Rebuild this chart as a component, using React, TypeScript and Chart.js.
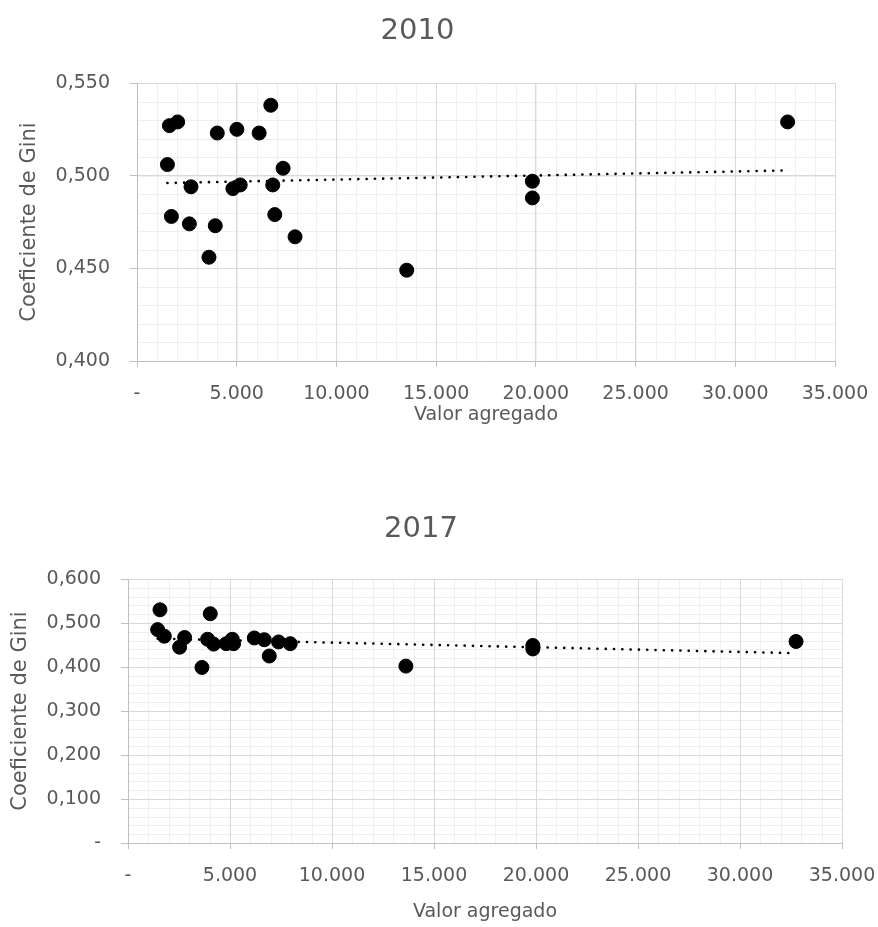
import React, { useEffect, useRef } from 'react';
import { Chart, registerables } from 'chart.js';

Chart.register(...registerables);

const FONT = '"DejaVu Sans", sans-serif';
const TEXT = '#595959';
const GRID = '#d9d9d9';
const AXIS = '#bfbfbf';
const MINOR = '#efefef';

// ---- data ----
const x2010 = [1525, 1625, 1725, 2040, 2625, 2708, 3608, 3925, 4025, 4808, 5008, 5175, 6125, 6710, 6808, 6908, 7325, 7925, 13525, 19825, 19825, 32625];
const y2010 = [0.506, 0.527, 0.478, 0.529, 0.474, 0.494, 0.456, 0.473, 0.523, 0.493, 0.525, 0.495, 0.523, 0.538, 0.495, 0.479, 0.504, 0.467, 0.449, 0.497, 0.488, 0.529];

const x2017 = [1451, 1568, 1779, 2529, 2774, 3626, 3902, 4033, 4196, 4817, 5111, 5175, 6190, 6680, 6924, 7380, 7953, 13622, 19845, 19845, 32747];
const y2017 = [0.485, 0.530, 0.470, 0.445, 0.467, 0.399, 0.463, 0.521, 0.452, 0.453, 0.463, 0.453, 0.466, 0.462, 0.425, 0.457, 0.453, 0.402, 0.449, 0.441, 0.458];

const xTickLabels = ['-', '5.000', '10.000', '15.000', '20.000', '25.000', '30.000', '35.000'];
const yTickLabels2010 = ['0,400', '0,450', '0,500', '0,550'];
const yTickLabels2017 = ['-', '0,100', '0,200', '0,300', '0,400', '0,500', '0,600'];

const titles = ['2010', '2017'];
const xTitle = 'Valor agregado';
const yTitle = 'Coeficiente de Gini';

function trendLine(xs: number[], ys: number[]) {
  const n = xs.length;
  const mx = xs.reduce((a, b) => a + b, 0) / n;
  const my = ys.reduce((a, b) => a + b, 0) / n;
  let sxy = 0;
  let sxx = 0;
  for (let i = 0; i < n; i++) {
    sxy += (xs[i] - mx) * (ys[i] - my);
    sxx += (xs[i] - mx) * (xs[i] - mx);
  }
  const b = sxy / sxx;
  const a = my - b * mx;
  const x0 = Math.min(...xs);
  const x1 = Math.max(...xs);
  return [
    { x: x0, y: a + b * x0 },
    { x: x1, y: a + b * x1 },
  ];
}

const minorGrid = {
  id: 'minorGrid',
  beforeDraw(chart: any, _args: any, opts: any) {
    const { ctx, chartArea, scales } = chart;
    const xs = scales.x;
    const ys = scales.y;
    ctx.save();
    ctx.strokeStyle = MINOR;
    ctx.lineWidth = 1;
    ctx.beginPath();
    for (let v = xs.min; v <= xs.max + 1e-9; v += opts.xStep) {
      const p = Math.round(xs.getPixelForValue(v)) + 0.5;
      ctx.moveTo(p, chartArea.top);
      ctx.lineTo(p, chartArea.bottom);
    }
    for (let i = 0; ; i++) {
      const v = ys.min + i * opts.yStep;
      if (v > ys.max + 1e-9) break;
      const p = Math.round(ys.getPixelForValue(v)) + 0.5;
      ctx.moveTo(chartArea.left, p);
      ctx.lineTo(chartArea.right, p);
    }
    ctx.stroke();
    ctx.restore();
  },
};

interface Cfg {
  title: string;
  xs: number[];
  ys: number[];
  yMin: number;
  yMax: number;
  yStep: number;
  yMinor: number;
  yLabels: string[];
  padRight: number;
  titlePadTop: number;
  titlePadBottom: number;
  yWidth: number;
  yTitlePad: number;
  xHeight: number;
  xTitlePad: number;
}

function ScatterChart({ cfg, width, height }: { cfg: Cfg; width: number; height: number }) {
  const ref = useRef<HTMLCanvasElement | null>(null);
  useEffect(() => {
    if (!ref.current) return;
    const points = cfg.xs.map((x, i) => ({ x, y: cfg.ys[i] }));
    const chart = new Chart(ref.current, {
      type: 'scatter',
      data: {
        datasets: [
          {
            type: 'scatter',
            data: points,
            pointRadius: 7,
            pointHoverRadius: 7,
            backgroundColor: '#000',
            borderColor: '#000',
            borderWidth: 1,
            order: 1,
          } as any,
          {
            type: 'line',
            data: trendLine(cfg.xs, cfg.ys),
            borderColor: '#000',
            borderWidth: 2.6,
            borderDash: [0.1, 8.2],
            borderCapStyle: 'round',
            pointRadius: 0,
            fill: false,
            order: 2,
          } as any,
        ],
      },
      options: {
        animation: false,
        responsive: false,
        maintainAspectRatio: false,
        events: [],
        layout: { padding: { left: 0, right: cfg.padRight, top: 0, bottom: 0 } },
        plugins: {
          legend: { display: false },
          tooltip: { enabled: false },
          title: {
            display: true,
            text: cfg.title,
            color: TEXT,
            font: { family: FONT, size: 29, weight: 'normal' },
            padding: { top: cfg.titlePadTop, bottom: cfg.titlePadBottom },
          },
          minorGrid: { xStep: 1000, yStep: cfg.yMinor },
        } as any,
        scales: {
          x: {
            type: 'linear',
            min: 0,
            max: 35000,
            ticks: {
              stepSize: 5000,
              autoSkip: false,
              maxRotation: 0,
              color: TEXT,
              padding: 16,
              font: { family: FONT, size: 19 },
              callback: (v: any) => xTickLabels[Math.round(Number(v) / 5000)],
            },
            grid: { color: GRID, tickColor: AXIS, tickLength: 6, lineWidth: 1 },
            border: { color: AXIS, width: 1 },
            title: {
              display: true,
              text: xTitle,
              color: TEXT,
              font: { family: FONT, size: 19 },
              padding: { top: 0, bottom: cfg.xTitlePad },
            },
            afterFit: (s: any) => {
              s.height = cfg.xHeight;
              s.paddingLeft = 0;
              s.paddingRight = 0;
            },
          },
          y: {
            type: 'linear',
            min: cfg.yMin,
            max: cfg.yMax,
            ticks: {
              stepSize: cfg.yStep,
              autoSkip: false,
              color: TEXT,
              padding: 20,
              font: { family: FONT, size: 19 },
              callback: (v: any) => cfg.yLabels[Math.round((Number(v) - cfg.yMin) / cfg.yStep)],
            },
            grid: { color: GRID, tickColor: AXIS, tickLength: 7, lineWidth: 1 },
            border: { color: AXIS, width: 1 },
            title: {
              display: true,
              text: yTitle,
              color: TEXT,
              font: { family: FONT, size: 21 },
              padding: { top: cfg.yTitlePad, bottom: 0 },
            },
            afterFit: (s: any) => {
              s.width = cfg.yWidth;
              s.paddingTop = 0;
              s.paddingBottom = 0;
            },
          },
        },
      } as any,
      plugins: [minorGrid as any],
    });
    return () => chart.destroy();
  }, [cfg, width, height]);
  return <canvas ref={ref} width={width} height={height} style={{ display: 'block', width, height }} />;
}

const cfg2010: Cfg = {
  title: titles[0],
  xs: x2010,
  ys: y2010,
  yMin: 0.4,
  yMax: 0.55,
  yStep: 0.05,
  yMinor: 0.01,
  yLabels: yTickLabels2010,
  padRight: 43,
  titlePadTop: 13.6,
  titlePadBottom: 34.6,
  yWidth: 137,
  yTitlePad: 17,
  xHeight: 79,
  xTitlePad: 14,
};

const cfg2017: Cfg = {
  title: titles[1],
  xs: x2017,
  ys: y2017,
  yMin: 0,
  yMax: 0.6,
  yStep: 0.1,
  yMinor: 0.02,
  yLabels: yTickLabels2017,
  padRight: 36,
  titlePadTop: 71.6,
  titlePadBottom: 32.6,
  yWidth: 128,
  yTitlePad: 7.5,
  xHeight: 84,
  xTitlePad: 3.5,
};

export default function App() {
  return (
    <div style={{ position: 'fixed', left: 0, top: 0, width: 878, height: 927, background: '#fff' }}>
      <ScatterChart cfg={cfg2010} width={878} height={440} />
      <ScatterChart cfg={cfg2017} width={878} height={487} />
    </div>
  );
}
